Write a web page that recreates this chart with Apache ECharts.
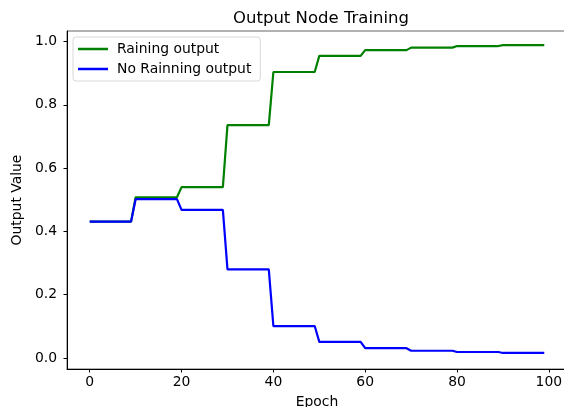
<!DOCTYPE html>
<html>
<head>
<meta charset="utf-8">
<script src="https://cdn.jsdelivr.net/npm/echarts@6/dist/echarts.min.js"></script>
<style>html,body{margin:0;padding:0;background:#fff;}#c{width:564px;height:407px;}</style>
</head>
<body>
<div id="c"></div>
<script>
const epochs = [
  0,1,2,3,4,5,6,7,8,9,10,11,12,13,14,15,16,17,18,19,
  20,21,22,23,24,25,26,27,28,29,30,31,32,33,34,35,36,37,38,39,
  40,41,42,43,44,45,46,47,48,49,50,51,52,53,54,55,56,57,58,59,
  60,61,62,63,64,65,66,67,68,69,70,71,72,73,74,75,76,77,78,79,
  80,81,82,83,84,85,86,87,88,89,90,91,92,93,94,95,96,97,98,99
];
const rainingOutput = [
  0.431,0.431,0.431,0.431,0.431,0.431,0.431,0.431,0.431,0.431,
  0.508,0.508,0.508,0.508,0.508,0.508,0.508,0.508,0.508,0.508,
  0.540,0.540,0.540,0.540,0.540,0.540,0.540,0.540,0.540,0.540,
  0.736,0.736,0.736,0.736,0.736,0.736,0.736,0.736,0.736,0.736,
  0.904,0.904,0.904,0.904,0.904,0.904,0.904,0.904,0.904,0.904,
  0.955,0.955,0.955,0.955,0.955,0.955,0.955,0.955,0.955,0.955,
  0.973,0.973,0.973,0.973,0.973,0.973,0.973,0.973,0.973,0.973,
  0.981,0.981,0.981,0.981,0.981,0.981,0.981,0.981,0.981,0.981,
  0.986,0.986,0.986,0.986,0.986,0.986,0.986,0.986,0.986,0.986,
  0.989,0.989,0.989,0.989,0.989,0.989,0.989,0.989,0.989,0.989
];
const noRainingOutput = [
  0.431,0.431,0.431,0.431,0.431,0.431,0.431,0.431,0.431,0.431,
  0.502,0.502,0.502,0.502,0.502,0.502,0.502,0.502,0.502,0.502,
  0.468,0.468,0.468,0.468,0.468,0.468,0.468,0.468,0.468,0.468,
  0.280,0.280,0.280,0.280,0.280,0.280,0.280,0.280,0.280,0.280,
  0.101,0.101,0.101,0.101,0.101,0.101,0.101,0.101,0.101,0.101,
  0.051,0.051,0.051,0.051,0.051,0.051,0.051,0.051,0.051,0.051,
  0.031,0.031,0.031,0.031,0.031,0.031,0.031,0.031,0.031,0.031,
  0.023,0.023,0.023,0.023,0.023,0.023,0.023,0.023,0.023,0.023,
  0.019,0.019,0.019,0.019,0.019,0.019,0.019,0.019,0.019,0.019,
  0.016,0.016,0.016,0.016,0.016,0.016,0.016,0.016,0.016,0.016
];
const xTicks = [0, 20, 40, 60, 80, 100];
const yTicks = [0.0, 0.2, 0.4, 0.6, 0.8, 1.0];
const seriesNames = ['Raining output', 'No Rainning output'];

const FONT = 'DejaVu Sans';
const chart = echarts.init(document.getElementById('c'), null, {renderer: 'canvas'});
chart.setOption({
  animation: false,
  backgroundColor: '#fff',
  textStyle: {fontFamily: FONT},
  title: {
    text: 'Output Node Training',
    left: 316, top: 5, textAlign: 'center',
    textStyle: {fontFamily: FONT, fontSize: 16.5, fontWeight: 'normal', color: '#000'}
  },
  legend: {
    orient: 'vertical',
    left: 73, top: 37,
    padding: [5, 9, 5, 5],
    itemGap: 6,
    itemWidth: 30, itemHeight: 2.5,
    icon: 'rect',
    backgroundColor: '#fff',
    borderColor: '#d8d8d8', borderWidth: 1, borderRadius: 3,
    textStyle: {fontFamily: FONT, fontSize: 13.9, color: '#000', padding: [0, 0, 0, 4]},
    data: seriesNames
  },
  grid: {left: 67, top: 31, right: -3, bottom: 38, show: true, borderColor: '#666', borderWidth: 1,
    containLabel: false, outerBoundsMode: 'none'},
  xAxis: {
    type: 'value', min: -4.95, max: 103.95,
    name: 'Epoch', nameLocation: 'middle', nameGap: 26,
    nameTextStyle: {fontFamily: FONT, fontSize: 13.9, color: '#000'},
    axisLine: {show: true, onZero: false, lineStyle: {color: '#000', width: 1}},
    axisTick: {show: true, inside: false, length: 3.5, lineStyle: {color: '#000'}, customValues: xTicks},
    axisLabel: {fontFamily: FONT, fontSize: 13.9, color: '#000', margin: 6, customValues: xTicks},
    splitLine: {show: false}
  },
  yAxis: {
    type: 'value', min: -0.0347, max: 1.0335,
    name: 'Output Value', nameLocation: 'middle', nameGap: 40, nameRotate: 90,
    nameTextStyle: {fontFamily: FONT, fontSize: 13.9, color: '#000'},
    axisLine: {show: true, onZero: false, lineStyle: {color: '#000', width: 1}},
    axisTick: {show: true, inside: false, length: 3.5, lineStyle: {color: '#000'}, customValues: yTicks},
    axisLabel: {fontFamily: FONT, fontSize: 13.9, color: '#000', margin: 10, customValues: yTicks,
      formatter: v => Number(v).toFixed(1)},
    splitLine: {show: false}
  },
  series: [
    {name: seriesNames[0], type: 'line', data: epochs.map((e, i) => [e, rainingOutput[i]]),
     showSymbol: false, symbol: 'none', lineStyle: {color: '#008000', width: 2.2}, itemStyle: {color: '#008000'}},
    {name: seriesNames[1], type: 'line', data: epochs.map((e, i) => [e, noRainingOutput[i]]),
     showSymbol: false, symbol: 'none', lineStyle: {color: '#0000ff', width: 2.2}, itemStyle: {color: '#0000ff'}}
  ]
});
</script>
</body>
</html>
